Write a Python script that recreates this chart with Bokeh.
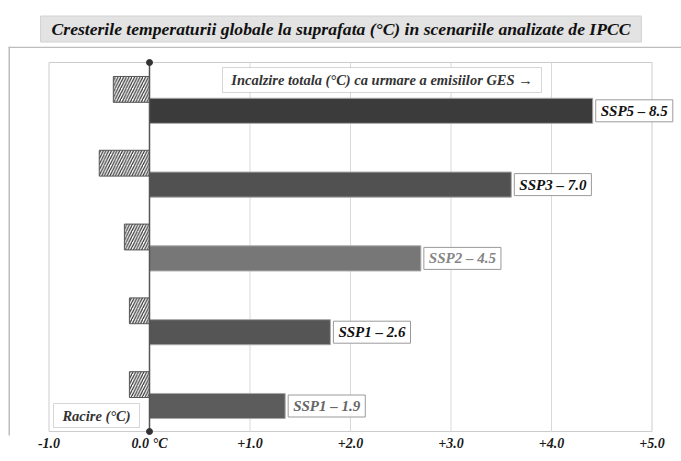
from bokeh.plotting import figure
from bokeh.models import Range1d, FixedTicker, Label, BoxAnnotation, ColumnDataSource
from bokeh.embed import file_html
from bokeh.resources import INLINE

# ---- data ----
scenarios = ["SSP1 – 1.9", "SSP1 – 2.6", "SSP2 – 4.5", "SSP3 – 7.0", "SSP5 – 8.5"]
warming = [1.35, 1.80, 2.70, 3.60, 4.41]
cooling = [-0.20, -0.20, -0.25, -0.50, -0.36]
bar_colors = ["#5c5c5c", "#555555", "#777777", "#515151", "#3b3b3b"]
label_colors = ["#666666", "#111111", "#858585", "#111111", "#111111"]
tick_values = [-1, 0, 1, 2, 3, 4, 5]
tick_labels = ["-1.0", "0.0 °C", "+1.0", "+2.0", "+3.0", "+4.0", "+5.0"]
title_text = "Cresterile temperaturii globale la suprafata (°C) in scenariile analizate de IPCC"
warm_note = "Incalzire totala (°C) ca urmare a emisiilor GES →"
cool_note = "Racire (°C)"

# ---- geometry (pixel <-> data helpers for decorations) ----
W, H = 681, 461
T, B = 46, 26                      # title panel above, axis panel below
X_PX0, X_UNIT = 149.0, 100.5       # pixel of x=0, pixels per unit
Y_PX0, Y_UNIT = 405.5, 73.8        # pixel of y=0 (lowest bar), pixels per category


def px2x(px):
    return (px - X_PX0) / X_UNIT


def px2y(py):
    return (Y_PX0 - py) / Y_UNIT


x_range = Range1d(px2x(0), px2x(W))
y_range = Range1d(px2y(H - B), px2y(T))

FONT = "Liberation Serif"

p = figure(width=W, height=H, x_range=x_range, y_range=y_range,
           output_backend="svg", toolbar_location=None, y_axis_location=None,
           min_border_left=0, min_border_right=0, min_border_top=T, min_border_bottom=B)
p.background_fill_color = "white"
p.border_fill_color = "white"
p.outline_line_color = None
p.xgrid.grid_line_color = None
p.ygrid.grid_line_color = None

# title box
p.title.text = title_text
p.title.align = "center"
p.title.text_font = FONT
p.title.text_font_style = "bold italic"
p.title.text_font_size = "17.6px"
p.title.text_color = "#111111"
p.title.background_fill_color = "#e3e3e3"
p.title.border_line_color = "#d2d2d2"
p.title.border_line_width = 1
p.title.padding = dict(left=11, right=11, top=3, bottom=3)
p.title.standoff = 9
p.title.offset = -2

# x axis
ax = p.xaxis[0]
ax.ticker = FixedTicker(ticks=tick_values)
ax.major_label_overrides = dict(zip(tick_values, tick_labels))
ax.axis_line_color = None
ax.major_tick_line_color = None
ax.minor_tick_line_color = None
ax.major_tick_out = 0
ax.major_tick_in = 0
ax.major_label_standoff = 0
ax.major_label_text_font = FONT
ax.major_label_text_font_style = "bold italic"
ax.major_label_text_font_size = "14px"
ax.major_label_text_color = "#1a1a1a"

# plot area box, from the tick range
ya0, ya1 = px2y(431), px2y(62)
xa0, xa1 = tick_values[0], tick_values[-1]
p.quad(left=[xa0], right=[xa1], bottom=[ya0], top=[ya1],
       fill_color=None, line_color="#cccccc", line_width=1)
p.segment(x0=tick_values[1:-1], x1=tick_values[1:-1],
          y0=[ya0] * (len(tick_values) - 2), y1=[ya1] * (len(tick_values) - 2),
          line_color="#d9d9d9", line_width=1)

# outer border (top and left)
p.segment(x0=[px2x(8), px2x(8.75)], x1=[px2x(W + 5), px2x(8.75)],
          y0=[px2y(46.75), px2y(46)], y1=[px2y(46.75), px2y(H + 5)],
          line_color="#bdbdbd", line_width=1.5)

ypos = list(range(len(scenarios)))
ycool = [v + 0.29 for v in ypos]

src = ColumnDataSource(dict(y=ypos, yc=ycool, warm=warming, cool=cooling,
                            color=bar_colors, zero=[0] * len(ypos)))

p.hbar(y="yc", left="cool", right="zero", height=0.35, source=src,
       fill_color="white", hatch_pattern="/", hatch_color="#333333",
       hatch_scale=5.5, hatch_weight=1.2, line_color="#555555", line_width=1)
p.hbar(y="y", left="zero", right="warm", height=0.34, source=src,
       fill_color="color", line_color="#a8a8a8", line_width=1)

# zero line with end dots
p.segment(x0=[0], x1=[0], y0=[ya0], y1=[ya1], line_color="#555555", line_width=1.5)
p.scatter(x=[0, 0], y=[ya0, ya1], size=6, fill_color="#333333", line_color="#333333")

for i, name in enumerate(scenarios):
    p.add_layout(Label(x=warming[i], y=ypos[i], text=name, anchor="center_left",
                       x_offset=3, text_font=FONT, text_font_style="bold italic",
                       text_font_size="15px", text_color=label_colors[i],
                       background_fill_color="white", border_line_color="#9a9a9a",
                       border_line_width=1, padding=dict(left=5, right=5, top=3, bottom=3)))

# notes
p.add_layout(BoxAnnotation(left=px2x(222), right=px2x(541), top=px2y(67), bottom=px2y(92),
                           fill_color="white", fill_alpha=1, line_color="#777777", line_width=1))
p.add_layout(Label(x=px2x(381.5), y=px2y(79.5), text=warm_note, anchor="center",
                   text_font=FONT, text_font_style="bold italic", text_font_size="14.5px",
                   text_color="#333333"))
p.add_layout(BoxAnnotation(left=px2x(53), right=px2x(139), top=px2y(403), bottom=px2y(427),
                           fill_color="white", fill_alpha=1, line_color="#777777", line_width=1))
p.add_layout(Label(x=px2x(96), y=px2y(415), text=cool_note, anchor="center",
                   text_font=FONT, text_font_style="bold italic", text_font_size="14.5px",
                   text_color="#333333"))

open("out.html", "w").write(file_html(p, INLINE))
